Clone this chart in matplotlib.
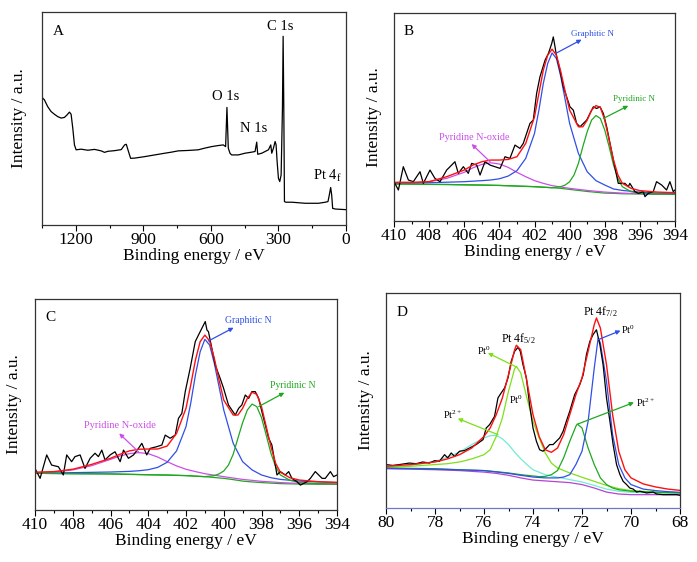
import numpy as np
import matplotlib
matplotlib.use("Agg")
import matplotlib.pyplot as plt
from matplotlib.ticker import MultipleLocator, NullLocator

plt.rcParams['font.family'] = ['Liberation Serif', 'DejaVu Serif']
plt.rcParams['mathtext.fontset'] = 'custom'
plt.rcParams['mathtext.rm'] = 'Liberation Serif'
plt.rcParams['mathtext.it'] = 'Liberation Serif:italic'

# ---------------- Panel A: survey spectrum ----------------
a_x = [1350, 1339.6, 1324.8, 1310.0, 1295.0, 1280.2, 1265.3, 1250.5, 1238.6, 1228.2,
       1220.8, 1213.4, 1205.9, 1198.5, 1176.2, 1146.5, 1116.8, 1087.1, 1072.3, 1057.4,
       1027.7, 998.0, 983.2, 975.7, 968.3, 956.4, 938.6, 894.0, 849.5, 804.9,
       775.2, 745.5, 701.0, 656.4, 626.7, 597.0, 567.3, 545.0, 534.6, 528.7,
       522.7, 515.3, 507.9, 478.2, 448.5, 418.8, 403.9, 396.5, 392.0, 374.2,
       344.5, 334.1, 329.7, 322.2, 314.8, 310.4, 305.9, 300.0, 294.1, 288.1,
       282.2, 279.2, 276.2, 273.3, 267.3, 240.6, 181.1, 121.6, 91.9, 80.0,
       74.1, 68.1, 63.6, 59.2, 47.3, 0]
a_y = [59.9, 58.8, 55.6, 53.3, 52.0, 50.9, 50.2, 50.5, 51.7, 53.0,
       52.0, 45.5, 37.6, 35.3, 35.6, 35.1, 35.5, 34.8, 34.1, 34.6,
       34.9, 35.4, 37.6, 37.9, 35.3, 31.3, 31.4, 32.1, 32.9, 33.7,
       34.2, 34.8, 35.0, 35.3, 36.1, 36.8, 37.3, 37.6, 36.8, 55.2,
       36.1, 33.7, 32.9, 32.9, 33.7, 34.2, 34.5, 38.9, 33.2, 33.7,
       35.3, 37.6, 33.7, 36.1, 39.2, 37.6, 29.8, 21.9, 20.4, 23.5,
       54.9, 88.6, 54.9, 11.0, 10.7, 10.7, 10.2, 10.2, 10.7, 11.0,
       14.1, 17.6, 14.1, 7.8, 7.5, 7.2]

# ---------------- Panel B: N 1s ----------------
b_x = [410.00, 409.75, 409.47, 409.18, 408.90, 408.52, 408.33, 407.95, 407.67, 407.38,
       407.00, 406.81, 406.53, 406.34, 406.05, 405.77, 405.58, 405.29, 405.10, 404.82,
       404.53, 404.25, 403.96, 403.68, 403.40, 403.11, 402.83, 402.64, 402.45, 402.26,
       402.07, 401.88, 401.69, 401.40, 401.21, 401.02, 400.93, 400.83, 400.74, 400.55,
       400.36, 400.17, 399.98, 399.79, 399.60, 399.41, 399.22, 399.03, 398.84, 398.65,
       398.46, 398.27, 398.08, 397.89, 397.70, 397.51, 397.23, 397.04, 396.85, 396.66,
       396.57, 396.28, 396.09, 395.81, 395.71, 395.52, 395.24, 395.05, 394.76, 394.48,
       394.29, 394.10, 394.00]
b_y = [18.9, 14.9, 26.1, 19.7, 18.9, 23.7, 18.1, 24.5, 20.5, 18.9,
       24.5, 26.1, 28.5, 22.9, 26.1, 22.9, 27.7, 26.9, 22.1, 28.5,
       26.9, 26.1, 25.3, 30.9, 30.1, 36.5, 34.9, 37.3, 42.1, 46.9,
       48.5, 61.3, 69.3, 77.3, 80.5, 85.3, 88.5, 83.7, 78.9, 72.5,
       64.5, 59.7, 54.9, 53.3, 46.9, 45.3, 46.9, 48.5, 51.7, 54.9,
       54.1, 54.9, 51.7, 45.3, 37.3, 29.3, 18.1, 18.1, 18.1, 16.5,
       18.1, 14.1, 13.3, 14.1, 11.7, 13.3, 14.1, 18.9, 17.3, 14.9,
       18.9, 14.1, 14.9]

b_bg_x = [410, 409, 408, 407, 406, 405, 404, 403, 402, 401, 400.5, 400, 399.5, 399,
          398.5, 398, 397.5, 397, 396, 395, 394]
b_bg_y = [17.8, 17.8, 17.6, 17.6, 17.4, 17.3, 17.1, 16.8, 16.5, 16.0, 15.7, 15.2, 14.7, 14.2,
          13.8, 13.4, 13.3, 13.1, 13.0, 12.8, 12.8]

b_ox_x = [410, 409, 408, 407, 406, 405.5, 405, 404.5, 404, 403.5, 403, 402.5, 402, 401.5,
          401, 400, 399, 398, 397, 396, 395, 394]
b_ox_y = [18.1, 18.2, 18.9, 20.5, 23.4, 25.6, 27.2, 28.0, 27.4, 25.8, 23.4, 21.3, 19.4, 18.1,
          17.0, 15.7, 14.7, 13.9, 13.4, 13.1, 13.0, 12.8]

b_gr_x = [410, 408, 406, 405, 404.5, 404, 403.5, 403, 402.5, 402, 401.75, 401.5, 401.25, 401,
          400.75, 400.5, 400.25, 400, 399.5, 399, 398.5, 398, 397.5, 397, 396, 395, 394]
b_gr_y = [18.1, 18.4, 18.9, 19.4, 19.7, 20.3, 21.6, 24.2, 30.1, 42.1, 53.3, 66.1, 75.7, 80.8,
          78.1, 69.3, 58.1, 46.9, 32.5, 23.7, 19.4, 17.3, 15.4, 14.7, 13.9, 13.4, 13.3]

b_py_x = [410, 408, 406, 404, 402, 401, 400.5, 400.25, 400, 399.75, 399.5, 399.25, 399, 398.75,
          398.5, 398.25, 398, 397.75, 397.5, 397.25, 397, 396.5, 396, 395, 394]
b_py_y = [17.8, 17.6, 17.4, 17.1, 16.5, 16.0, 16.5, 17.3, 18.9, 22.1, 27.7, 35.7, 42.9, 48.5,
          50.7, 49.3, 43.7, 35.7, 26.9, 20.5, 16.5, 14.1, 13.3, 13.0, 12.8]

b_fit_x = [410, 409, 408, 407, 406, 405.5, 405, 404.5, 404, 403.5, 403, 402.5, 402, 401.75,
           401.5, 401.25, 401, 400.75, 400.5, 400.25, 400, 399.5, 399.25, 399, 398.75, 398.5,
           398.25, 398, 397.75, 397.5, 397.25, 397, 396.5, 396, 395, 394]
b_fit_y = [18.6, 18.6, 18.9, 21.3, 24.5, 26.9, 28.5, 29.3, 29.3, 29.6, 30.9, 37.3, 50.1, 61.3,
           72.5, 79.7, 82.6, 79.7, 71.7, 62.1, 53.3, 45.3, 45.3, 48.5, 53.3, 55.5,
           54.6, 48.5, 38.9, 29.3, 22.1, 18.1, 15.7, 14.6, 13.9, 13.6]

# ---------------- Panel C: N 1s ----------------
c_x = [410.00, 409.73, 409.38, 409.12, 408.76, 408.50, 408.32, 408.06, 407.88, 407.61,
       407.35, 407.08, 406.82, 406.64, 406.46, 406.29, 406.02, 405.76, 405.49, 405.31,
       405.05, 404.78, 404.52, 404.34, 404.08, 403.90, 403.55, 403.28, 403.10, 402.84,
       402.57, 402.40, 402.22, 402.04, 401.78, 401.51, 401.34, 401.16, 400.98, 400.89,
       400.81, 400.63, 400.45, 400.19, 400.01, 399.75, 399.57, 399.39, 399.21, 399.04,
       398.86, 398.68, 398.51, 398.33, 398.15, 397.98, 397.80, 397.62, 397.45, 397.18,
       397.00, 396.74, 396.56, 396.39, 396.12, 395.94, 395.77, 395.59, 395.41, 395.15,
       394.97, 394.79, 394.62, 394.35, 394.18, 394.00]
c_y = [19.7, 15.0, 26.1, 21.3, 20.5, 16.6, 26.1, 22.9, 25.3, 26.1,
       19.7, 24.5, 26.9, 25.3, 28.4, 23.7, 26.1, 27.6, 22.9, 28.4,
       24.5, 26.1, 29.2, 31.6, 26.1, 29.2, 30.0, 30.8, 35.5, 34.0,
       35.5, 43.4, 45.8, 56.1, 67.1, 79.8, 82.9, 86.1, 89.3, 85.3,
       84.5, 76.6, 68.7, 62.4, 57.7, 49.8, 47.4, 45.0, 48.2, 49.8,
       54.5, 52.9, 56.1, 56.1, 52.9, 46.6, 40.3, 34.0, 30.8, 16.6,
       18.2, 16.6, 18.2, 15.0, 13.4, 11.8, 12.6, 13.4, 15.0, 18.2,
       16.6, 15.0, 15.0, 18.2, 15.8, 16.6]

c_bg_x = [410, 408, 406, 404, 403, 402, 401, 400, 399.5, 399, 398.5, 398, 397, 396, 395, 394]
c_bg_y = [17.4, 17.2, 17.1, 16.7, 16.6, 16.3, 15.8, 15.0, 14.4, 13.7, 13.3, 13.0, 12.5, 12.3,
          12.2, 12.2]

c_ox_x = [410, 409, 408, 407, 406, 405.5, 405, 404.5, 404, 403.5, 403, 402.5, 402, 401.5,
          401, 400, 399, 398, 397, 396, 395, 394]
c_ox_y = [17.7, 18.0, 19.0, 21.0, 24.0, 25.6, 26.7, 27.2, 26.7, 25.1, 22.9, 20.9, 19.3, 18.2,
          17.2, 15.8, 14.5, 13.6, 13.0, 12.6, 12.5, 12.3]

c_gr_x = [410, 408, 406, 405, 404.5, 404, 403.5, 403, 402.5, 402, 401.75, 401.5, 401.25, 401,
          400.75, 400.5, 400.25, 400, 399.5, 399, 398.5, 398, 397.5, 397, 396, 395, 394]
c_gr_y = [17.4, 17.7, 18.0, 18.3, 18.6, 19.1, 20.2, 22.6, 28.0, 39.5, 50.6, 64.0, 75.0, 80.9,
          78.2, 69.5, 58.5, 47.4, 31.6, 22.9, 19.0, 16.6, 15.3, 14.5, 13.7, 13.3, 13.0]

c_py_x = [410, 408, 406, 404, 402, 401, 400.5, 400.25, 400, 399.75, 399.5, 399.25, 399, 398.75,
          398.5, 398.25, 398, 397.75, 397.5, 397.25, 397, 396.5, 396, 395, 394]
c_py_y = [17.4, 17.2, 17.1, 16.7, 16.3, 15.8, 16.3, 17.1, 18.5, 21.3, 26.4, 34.0, 41.4, 47.4,
          50.2, 49.0, 43.8, 35.5, 26.9, 20.5, 16.6, 14.1, 13.0, 12.5, 12.3]

c_fit_x = b_fit_x
c_fit_y = [17.9, 18.2, 19.3, 21.6, 24.5, 26.4, 28.0, 28.8, 28.9, 28.9, 30.3, 36.3, 48.2, 59.2,
           71.1, 79.8, 82.9, 80.1, 71.9, 61.6, 52.1, 45.0, 45.0, 48.2, 52.9, 55.8,
           54.8, 49.0, 39.5, 30.0, 22.1, 17.9, 15.3, 14.2, 13.4, 13.1]

# ---------------- Panel D: Pt 4f ----------------
d_x = [80.00, 79.73, 79.45, 79.05, 78.77, 78.50, 78.23, 78.02, 77.82, 77.61,
       77.48, 77.34, 77.20, 77.00, 76.80, 76.59, 76.32, 76.04, 75.91, 75.77,
       75.57, 75.43, 75.30, 75.16, 75.02, 74.89, 74.75, 74.61, 74.52, 74.41,
       74.27, 74.14, 74.00, 73.86, 73.73, 73.59, 73.45, 73.32, 73.18, 73.05,
       72.91, 72.77, 72.64, 72.50, 72.30, 72.09, 71.95, 71.82, 71.68, 71.55,
       71.41, 71.27, 71.14, 71.00, 70.86, 70.73, 70.59, 70.45, 70.32, 70.18,
       70.05, 69.91, 69.77, 69.64, 69.36, 69.09, 68.95, 68.68, 68.41, 68.14, 68.00]
d_y = [20.2, 19.8, 20.2, 20.9, 20.6, 21.4, 20.9, 22.0, 21.7, 24.8,
       23.3, 25.6, 24.0, 26.4, 26.7, 27.9, 29.5, 31.8, 37.2, 38.8,
       42.6, 51.2, 53.5, 55.8, 60.5, 68.2, 72.9, 74.7, 72.9, 66.7,
       60.5, 48.1, 37.2, 31.0, 27.1, 26.4, 27.9, 29.5, 29.5, 31.0,
       32.6, 35.7, 40.3, 45.0, 52.7, 57.4, 62.0, 71.3, 77.5, 80.6,
       82.9, 76.0, 66.7, 51.2, 40.3, 29.5, 20.2, 15.5, 12.4, 10.9,
       9.3, 8.8, 7.4, 7.8, 7.0, 7.4, 6.5, 6.2, 6.2, 6.2, 5.9]

d_bg_x = [80, 79, 78, 77, 76, 75.5, 75, 74.5, 74, 73.5, 73, 72.5, 72, 71.5, 71, 70.5, 70, 69, 68]
d_bg_y = [18.3, 18.1, 17.8, 17.4, 16.7, 16.1, 15.2, 14.0, 13.0, 12.6, 12.2, 11.8, 10.9, 9.3,
          7.4, 6.5, 6.2, 6.2, 6.2]

d_f = [80, 79, 78, 77.5, 77, 76.5, 76, 75.75, 75.5, 75.25, 75, 74.75, 74.68, 74.5, 74.25, 74,
       73.75, 73.5, 73.25, 73, 72.75, 72.5, 72.25, 72, 71.75, 71.5, 71.41, 71.25, 71, 70.75,
       70.5, 70.25, 70, 69.5, 69, 68.5, 68]
d_fit_y = [19.4, 20.2, 21.4, 22.8, 24.8, 27.9, 33.3, 37.2, 43.4, 51.2, 62.0, 73.6, 75.7, 73.6,
           58.9, 43.4, 33.3, 27.1, 25.9, 27.9, 34.1, 43.4, 52.7, 60.5, 72.9, 85.3, 88.4, 83.7,
           66.7, 43.4, 26.4, 17.8, 14.0, 11.2, 9.8, 8.8, 8.2]

d_p0a_x = [80, 79, 78, 77.5, 77, 76.5, 76, 75.75, 75.5, 75.25, 75, 74.75, 74.68, 74.5, 74.25,
           74, 73.75, 73.5, 73.25, 73, 72.5, 72, 71.5, 71, 70.5, 70, 69, 68]
d_p0a_y = [18.9, 19.4, 20.2, 20.6, 21.4, 22.8, 24.8, 27.1, 33.3, 41.9, 54.3, 64.8, 65.9, 62.8,
           51.2, 40.3, 32.6, 25.6, 20.9, 18.6, 16.3, 14.3, 12.4, 10.5, 9.0, 8.1, 7.4, 7.1]

d_p2a_x = [80, 79, 78, 77.5, 77, 76.5, 76, 75.75, 75.5, 75.25, 75, 74.75, 74.5, 74.25, 74,
           73.5, 73, 72.5, 72, 71.5, 71, 70.5, 70, 69, 68]
d_p2a_y = [18.9, 19.7, 21.7, 23.6, 26.0, 29.5, 32.6, 33.6, 33.8, 32.2, 29.5, 26.0, 22.9, 20.2,
           17.8, 15.5, 14.3, 13.2, 12.1, 10.5, 8.8, 7.8, 7.3, 7.0, 6.8]

d_p0b_x = [80, 78, 76, 75, 74.5, 74, 73.5, 73, 72.75, 72.5, 72.25, 72, 71.75, 71.5, 71.34,
           71.25, 71, 70.75, 70.5, 70.25, 70, 69.5, 69, 68.5, 68]
d_p0b_y = [18.4, 18.1, 17.4, 16.1, 15.2, 14.4, 14.0, 14.0, 14.4, 15.5, 20.2, 26.4, 40.3, 65.1,
           79.1, 76.7, 58.9, 34.1, 20.2, 14.0, 10.9, 8.8, 8.1, 7.6, 7.3]

d_p2b_x = [80, 78, 77, 76, 75.5, 75, 74.5, 74, 73.75, 73.5, 73.25, 73, 72.75, 72.5, 72.25,
           72.19, 72, 71.75, 71.5, 71.25, 71, 70.75, 70.5, 70, 69, 68]
d_p2b_y = [18.6, 18.3, 17.8, 17.4, 16.9, 16.3, 15.5, 14.9, 14.6, 14.7, 15.5, 17.4, 23.3, 31.0,
           38.0, 39.1, 37.2, 27.9, 20.2, 14.0, 10.9, 9.3, 8.5, 7.8, 7.3, 7.0]

# colours
BLUE = '#2f4fe6'
GREEN = '#1fa81f'
MAGENTA = '#cc4ee8'
RED = '#ff1010'
LGREEN = '#7ee01a'
CYAN = '#70ecd6'
PURPLE = '#b444d4'

W, H = 697, 562
fig = plt.figure(figsize=(W / 100, H / 100), dpi=100)


def make_axes(l, r, t, b, ypad=9):
    ax = fig.add_axes([l / W, 1 - b / H, (r - l) / W, (b - t) / H])
    ax.yaxis.set_major_locator(NullLocator())
    ax.tick_params(axis='x', direction='out', length=4, width=0.8, labelsize=12.5,
                   pad=1, top=False)
    ax.tick_params(axis='x', which='minor', direction='out', length=2.5, width=0.8, top=False)
    for s in ax.spines.values():
        s.set_linewidth(0.9)
        s.set_color('#333333')
    ax.set_ylim(0, 100)
    ax.set_xlabel('Binding energy / eV', fontsize=12.5, labelpad=0)
    ax.set_ylabel('Intensity / a.u.', fontsize=12.5, labelpad=ypad)
    return ax


def arrow(ax, x0, y0, x1, y1, color):
    ax.annotate('', xy=(x1, y1), xytext=(x0, y0),
                arrowprops=dict(arrowstyle='-|>', color=color, lw=0.9,
                                mutation_scale=6, shrinkA=0, shrinkB=0))


# A
axA = make_axes(42, 346, 12, 225, ypad=11)
axA.plot(a_x, a_y, color='black', lw=0.9)
axA.set_xlim(1350, 0)
axA.xaxis.set_major_locator(MultipleLocator(300))
axA.xaxis.set_minor_locator(MultipleLocator(150))
axA.text(0.035, 0.91, 'A', transform=axA.transAxes, fontsize=11, va='center')
axA.text(293, 93.4, 'C 1s', fontsize=10.5, ha='center', va='center')
axA.text(533, 60.1, 'O 1s', fontsize=10.5, ha='center', va='center')
axA.text(408, 45.5, 'N 1s', fontsize=10.5, ha='center', va='center')
axA.text(84, 23, 'Pt 4$_\\mathregular{f}$', fontsize=10.5, ha='center', va='center')


def n1s_panel(ax, x, y, bgx, bgy, oxx, oxy, grx, gry, pyx, pyy, fx, fy, ann):
    ax.plot(bgx, bgy, color=GREEN, lw=0.9)
    ax.plot(oxx, oxy, color=MAGENTA, lw=0.9)
    ax.plot(grx, gry, color=BLUE, lw=0.9)
    ax.plot(pyx, pyy, color=GREEN, lw=0.9)
    ax.plot(x, y, color='black', lw=0.9)
    ax.plot(fx, fy, color=RED, lw=1.0)
    ax.set_xlim(410, 394)
    ax.xaxis.set_major_locator(MultipleLocator(2))
    ax.xaxis.set_minor_locator(MultipleLocator(1))
    for txt, tx, ty, col, fs, a in ann:
        ax.text(tx, ty, txt, fontsize=fs, color=col, ha='center', va='center')
        arrow(ax, a[0], a[1], a[2], a[3], col)


# B
axB = make_axes(394, 675, 13, 221)
n1s_panel(axB, b_x, b_y, b_bg_x, b_bg_y, b_ox_x, b_ox_y, b_gr_x, b_gr_y, b_py_x, b_py_y,
          b_fit_x, b_fit_y,
          [('Graphitic N', 398.71, 89.8, BLUE, 6.5, (400.74, 80.8, 399.32, 87.2)),
           ('Pyridinic N', 396.36, 58.7, GREEN, 6.5, (398.08, 49.3, 396.66, 55.4)),
           ('Pyridine N-oxide', 405.45, 40.2, MAGENTA, 7.3, (404.53, 28.5, 405.58, 37.0))])
axB.text(0.035, 0.91, 'B', transform=axB.transAxes, fontsize=11, va='center')

# C
axC = make_axes(35, 337, 299, 510)
n1s_panel(axC, c_x, c_y, c_bg_x, c_bg_y, c_ox_x, c_ox_y, c_gr_x, c_gr_y, c_py_x, c_py_y,
          c_fit_x, c_fit_y,
          [('Graphitic N', 398.72, 89.7, BLUE, 7, (400.81, 80.1, 399.48, 86.4)),
           ('Pyridinic N', 396.35, 59.1, GREEN, 7, (398.15, 49.0, 396.79, 55.6)),
           ('Pyridine N-oxide', 405.49, 40.0, MAGENTA, 7.5, (404.52, 27.6, 405.54, 36.3))])
axC.text(0.035, 0.91, 'C', transform=axC.transAxes, fontsize=11, va='center')

# D
axD = make_axes(386, 680, 293, 508)
axD.plot(d_bg_x, d_bg_y, color=PURPLE, lw=0.9)
axD.plot(d_p2a_x, d_p2a_y, color=CYAN, lw=0.9)
axD.plot(d_p0a_x, d_p0a_y, color=LGREEN, lw=0.9)
axD.plot(d_p2b_x, d_p2b_y, color=GREEN, lw=0.9)
axD.plot(d_p0b_x, d_p0b_y, color=BLUE, lw=0.9)
axD.plot(d_x, d_y, color='black', lw=0.9)
axD.plot(d_f, d_fit_y, color=RED, lw=1.0)
axD.set_xlim(80, 68)
axD.xaxis.set_major_locator(MultipleLocator(2))
axD.xaxis.set_minor_locator(MultipleLocator(1))
axD.spines['bottom'].set_color('#6a78c8')
axD.text(0.035, 0.91, 'D', transform=axD.transAxes, fontsize=11, va='center')
axD.text(71.27, 91.5, 'Pt 4f$_\\mathregular{7/2}$', fontsize=8.5, ha='center', va='center')
axD.text(74.61, 78.8, 'Pt 4f$_\\mathregular{5/2}$', fontsize=8.5, ha='center', va='center')
axD.text(70.11, 82.9, 'Pt$^\\mathregular{0}$', fontsize=7.5, ha='center', va='center')
axD.text(76.0, 73.2, 'Pt$^\\mathregular{0}$', fontsize=7.5, ha='center', va='center')
axD.text(74.68, 50.4, 'Pt$^\\mathregular{0}$', fontsize=7.5, ha='center', va='center')
axD.text(77.27, 43.4, 'Pt$^\\mathregular{2+}$', fontsize=7.5, ha='center', va='center')
axD.text(69.42, 49.1, 'Pt$^\\mathregular{2+}$', fontsize=7.5, ha='center', va='center')
arrow(axD, 71.34, 78.3, 70.43, 82.5, BLUE)
arrow(axD, 74.68, 65.6, 75.84, 72.1, LGREEN)
arrow(axD, 75.43, 34.1, 77.07, 41.6, LGREEN)
arrow(axD, 72.16, 39.1, 69.88, 49.1, GREEN)

fig.savefig('out.png', dpi=100)
